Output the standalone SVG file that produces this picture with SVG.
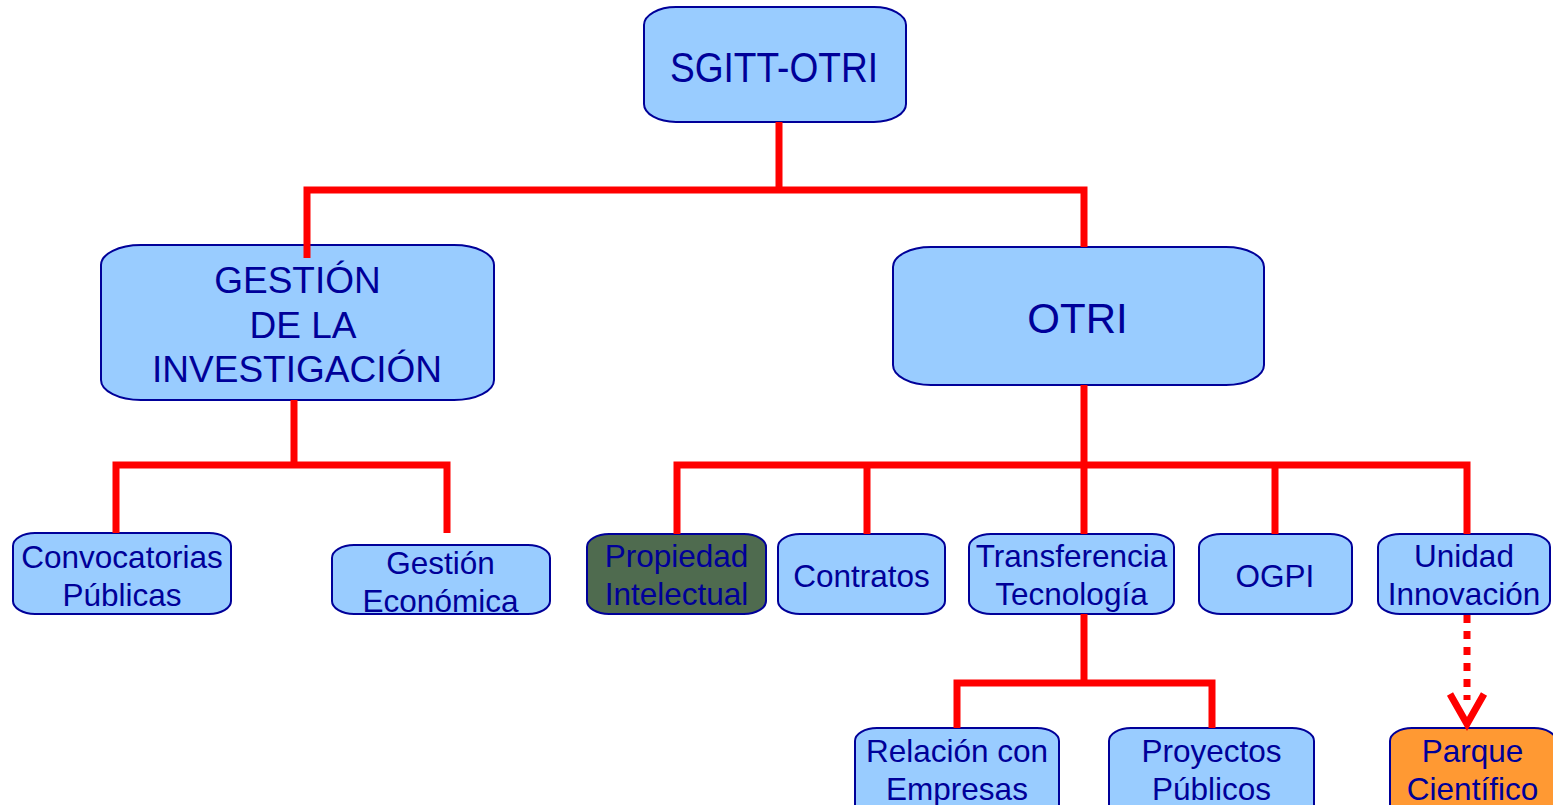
<svg xmlns="http://www.w3.org/2000/svg" width="1553" height="805" viewBox="0 0 1553 805">
<style>
.box{fill:#99CCFF;stroke:#000099;stroke-width:2}
.green{fill:#4F6B4F}
.orange{fill:#FF9933}
text{font-family:"Liberation Sans",Arial,sans-serif;fill:#000099;text-anchor:middle}
.s{font-size:31.5px}
.m{font-size:37px}
.l{font-size:42px}
.con{fill:none;stroke:#FF0000;stroke-width:7;stroke-linejoin:miter;stroke-linecap:butt}
</style>
<rect width="1553" height="805" fill="#FFFFFF"/>
<g id="n-sgitt"><rect class="box" x="644" y="7" width="262" height="115" rx="32" ry="18"/><text class="l" x="774" y="82" textLength="208" lengthAdjust="spacingAndGlyphs" font-size="41">SGITT-OTRI</text></g>
<g id="n-gestion"><rect class="box" x="101" y="245" width="393" height="155" rx="40" ry="20"/><text class="m" x="297.5" y="293">GESTIÓN</text><text class="m" x="303" y="338">DE LA</text><text class="m" x="297" y="382">INVESTIGACIÓN</text></g>
<g id="n-otri"><rect class="box" x="893" y="247" width="371" height="138" rx="38" ry="20"/><text class="l" x="1077.5" y="333">OTRI</text></g>
<g id="n-convocatorias"><rect class="box" x="13" y="533" width="218" height="81" rx="22" ry="13"/><text class="s" x="122" y="568">Convocatorias</text><text class="s" x="122" y="606">Públicas</text></g>
<g id="n-gesteco"><rect class="box" x="332" y="545" width="218" height="69" rx="22" ry="13"/><text class="s" x="440.5" y="574">Gestión</text><text class="s" x="440.5" y="612">Económica</text></g>
<g id="n-propiedad"><rect class="box green" x="587" y="534" width="179" height="80" rx="22" ry="13"/><text class="s" x="676.5" y="567">Propiedad</text><text class="s" x="676.5" y="605">Intelectual</text></g>
<g id="n-contratos"><rect class="box" x="778" y="534" width="167" height="80" rx="22" ry="13"/><text class="s" x="861.5" y="587">Contratos</text></g>
<g id="n-transferencia"><rect class="box" x="969" y="534" width="205" height="80" rx="22" ry="13"/><text class="s" x="1071.5" y="567">Transferencia</text><text class="s" x="1071.5" y="605">Tecnología</text></g>
<g id="n-ogpi"><rect class="box" x="1199" y="534" width="153" height="80" rx="22" ry="13"/><text class="s" x="1275" y="587">OGPI</text></g>
<g id="n-unidad"><rect class="box" x="1378" y="534" width="172" height="80" rx="22" ry="13"/><text class="s" x="1464" y="567">Unidad</text><text class="s" x="1464" y="605">Innovación</text></g>
<g id="n-relacion"><rect class="box" x="855" y="728" width="204" height="100" rx="22" ry="13"/><text class="s" x="957" y="762">Relación con</text><text class="s" x="957" y="800">Empresas</text></g>
<g id="n-proyectos"><rect class="box" x="1109" y="728" width="205" height="100" rx="22" ry="13"/><text class="s" x="1211.5" y="762">Proyectos</text><text class="s" x="1211.5" y="800">Públicos</text></g>
<g id="n-parque"><rect class="box orange" x="1390" y="728" width="166" height="100" rx="22" ry="13"/><text class="s" x="1472.5" y="762">Parque</text><text class="s" x="1472.5" y="800">Científico</text></g>
<g id="connectors">
<path class="con" d="M779 122 V190 M307 258 V190 H1084 V247"/>
<path class="con" d="M294 400 V465 M116 533 V465 H447 V533"/>
<path class="con" d="M1084 385 V534 M677 534 V465 H1467 V534 M867 465 V534 M1275 465 V534"/>
<path class="con" d="M1084 614 V683 M957 728 V683 H1212 V728"/>
<path class="con" d="M1467 615 V700" stroke-dasharray="8 8"/>
<polyline class="con" points="1450,694 1467,724 1484,694" stroke-width="6"/>
</g>
</svg>
